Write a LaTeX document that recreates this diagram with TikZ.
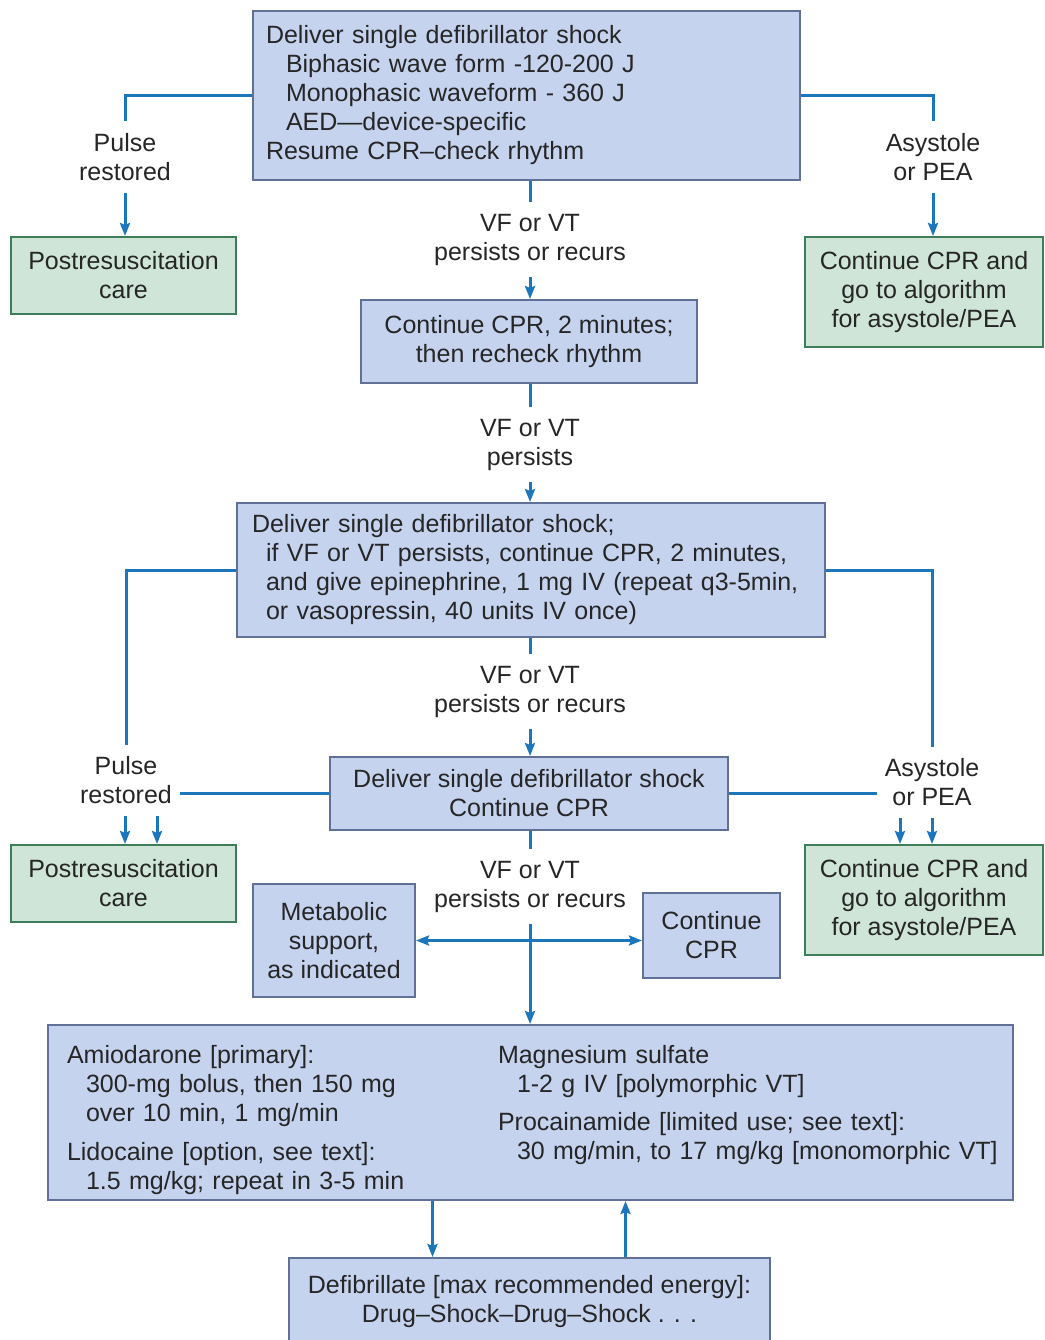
\documentclass[tikz,border=0pt]{standalone}
\usepackage{fontspec}
\setmainfont{Liberation Sans}
\usetikzlibrary{arrows.meta,positioning}
\definecolor{boxblue}{RGB}{197,211,239}
\definecolor{boxblueline}{RGB}{96,112,150}
\definecolor{boxgreen}{RGB}{206,229,215}
\definecolor{boxgreenline}{RGB}{60,125,90}
\definecolor{flowline}{RGB}{28,118,188}
\definecolor{inktext}{RGB}{38,38,38}
\tikzset{>={Stealth[length=13pt,width=10pt,inset=2pt]}}
\tikzset{
  bluebox/.style={draw=boxblueline, fill=boxblue, line width=2pt, inner sep=0pt, align=center},
  greenbox/.style={draw=boxgreenline, fill=boxgreen, line width=2pt, inner sep=0pt, align=center},
  branch/.style={inner xsep=8pt, inner ysep=12pt, align=center},
  flow/.style={draw=flowline, line width=3pt},
}
\newcommand{\ind}{\hspace*{20pt}}

\begin{document}
\begin{tikzpicture}[x=1pt, y=-1pt, font=\fontsize{25}{29}\selectfont, text=inktext]
  \useasboundingbox[fill=white] (0,0) rectangle (1044,1340);

  % first shock and its three outcomes
  \node[bluebox, minimum width=547, minimum height=169, text width=521pt, align=left] (shock1) at (526.5,95.5)
    {Deliver single defibrillator shock\\ \ind Biphasic wave form -120-200 J\\ \ind Monophasic waveform - 360 J\\ \ind AED---device-specific\\Resume CPR--check rhythm};
  \node[branch] (pulse1) at (125,157) {Pulse\\restored};
  \node[greenbox, minimum width=225, minimum height=77] (post1) at (123.5,275.5) {Postresuscitation\\care};
  \node[branch] (asys1) at (933,157) {Asystole\\or PEA};
  \node[greenbox, minimum width=238, minimum height=110] (alg1) at (924,292) {Continue CPR and\\go to algorithm\\for asystole/PEA};
  \node[branch] (vf1) at (530,239.5) {VF or VT\\persists or recurs};
  \node[bluebox, minimum width=336, minimum height=83] (recheck) at (529,341.5) {Continue CPR, 2 minutes;\\then recheck rhythm};
  \node[branch] (vf2) at (530,444.5) {VF or VT\\persists};

  % second shock, epinephrine / vasopressin
  \node[bluebox, minimum width=588, minimum height=134, text width=558pt, align=left] (shock2) at (531,570)
    {Deliver single defibrillator shock;\\ \hspace*{14pt}if VF or VT persists, continue CPR, 2 minutes,\\ \hspace*{14pt}and give epinephrine, 1 mg IV (repeat q3-5min,\\ \hspace*{14pt}or vasopressin, 40 units IV once)};
  \node[branch] (vf3) at (530,691.5) {VF or VT\\persists or recurs};
  \node[bluebox, minimum width=398, minimum height=73] (shock3) at (529,793.5) {Deliver single defibrillator shock\\Continue CPR};
  \node[branch] (pulse2) at (126,780.5) {Pulse\\restored};
  \node[greenbox, minimum width=225, minimum height=77] (post2) at (123.5,883.5) {Postresuscitation\\care};
  \node[branch] (asys2) at (932,782.5) {Asystole\\or PEA};
  \node[greenbox, minimum width=238, minimum height=110] (alg2) at (924,900) {Continue CPR and\\go to algorithm\\for asystole/PEA};

  % antiarrhythmics
  \node[branch] (vf4) at (530,886.5) {VF or VT\\persists or recurs};
  \node[bluebox, minimum width=162, minimum height=113] (metab) at (334,940.5) {Metabolic\\support,\\as indicated};
  \node[bluebox, minimum width=137, minimum height=85] (contcpr) at (711.5,935.5) {Continue\\CPR};
  \node[bluebox, minimum width=965, minimum height=175, text width=945pt, align=left] (drugs) at (530.5,1112.5)
    {\vspace*{-15pt}\noindent\hspace*{9pt}\begin{minipage}[t]{431pt}
      Amiodarone [primary]:\\
      \hspace*{19pt}300-mg bolus, then 150 mg\\
      \hspace*{19pt}over 10 min, 1 mg/min\\[10pt]
      Lidocaine [option, see text]:\\
      \hspace*{19pt}1.5 mg/kg; repeat in 3-5 min
    \end{minipage}%
    \begin{minipage}[t]{505pt}
      Magnesium sulfate\\
      \hspace*{19pt}1-2 g IV [polymorphic VT]\\[9pt]
      Procainamide [limited use; see text]:\\
      \hspace*{19pt}30 mg/min, to 17 mg/kg [monomorphic VT]
    \end{minipage}};
  \node[bluebox, minimum width=481, minimum height=88] (defib) at (529.5,1302) {Defibrillate [max recommended energy]:\\Drug--Shock--Drug--Shock . . .};

  % connectors
  \draw[flow] (shock1.west) -| (pulse1.north);
  \draw[flow,->] (pulse1.south) -- (pulse1.south |- post1.north);
  \draw[flow] (shock1.east) -| (asys1.north);
  \draw[flow,->] (asys1.south) -- (asys1.south |- alg1.north);
  \draw[flow] (vf1.north |- shock1.south) -- (vf1.north);
  \draw[flow,->] (vf1.south) -- (vf1.south |- recheck.north);
  \draw[flow] (vf2.north |- recheck.south) -- (vf2.north);
  \draw[flow,->] (vf2.south) -- (vf2.south |- shock2.north);
  \draw[flow] (shock2.west) -| (pulse2.north);
  \draw[flow] (shock2.east) -| (asys2.north);
  \draw[flow] (vf3.north |- shock2.south) -- (vf3.north);
  \draw[flow,->] (vf3.south) -- (vf3.south |- shock3.north);
  \draw[flow] (shock3.west) -- (shock3.west -| pulse2.east);
  \draw[flow] (shock3.east) -- (shock3.east -| asys2.west);
  \draw[flow,->] ([xshift=-1pt]pulse2.south) -- ([xshift=-1pt]pulse2.south |- post2.north);
  \draw[flow,->] ([xshift=31pt]pulse2.south) -- ([xshift=31pt]pulse2.south |- post2.north);
  \draw[flow,->] ([xshift=-32pt]asys2.south) -- ([xshift=-32pt]asys2.south |- alg2.north);
  \draw[flow,->] (asys2.south) -- (asys2.south |- alg2.north);
  \draw[flow] (vf4.north |- shock3.south) -- (vf4.north);
  \draw[flow,->] (vf4.south) -- (vf4.south |- drugs.north);
  \coordinate (split) at (vf4.south |- metab.east);
  \draw[flow,->] (split) -- (metab.east);
  \draw[flow,->] (split) -- (split -| contcpr.west);
  \draw[flow,->] ([xshift=-98pt]drugs.south) -- ([xshift=-98pt]drugs.south |- defib.north);
  \draw[flow,->] ([xshift=95pt]drugs.south |- defib.north) -- ([xshift=95pt]drugs.south);
\end{tikzpicture}
\end{document}
